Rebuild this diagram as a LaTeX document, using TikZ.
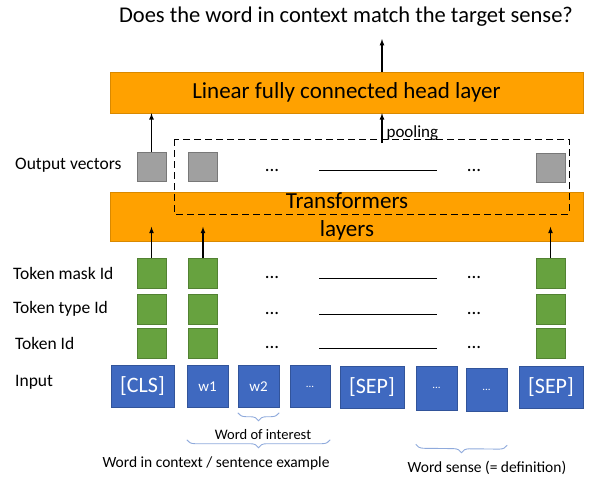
\documentclass[tikz,border=0pt]{standalone}
\usepackage{fontspec}
\setmainfont{Carlito}
\usetikzlibrary{decorations.pathreplacing}
\definecolor{layerorange}{HTML}{FFA100}
\definecolor{vecgrey}{HTML}{A0A0A0}
\definecolor{idgreen}{HTML}{67A23F}
\definecolor{tokblue}{HTML}{3F69C0}
\definecolor{bracebl}{HTML}{8FAADC}
\tikzset{
  layer/.style={draw=layerorange!85!black, fill=layerorange, minimum width=473pt, inner sep=0pt},
  vec/.style={draw=vecgrey!75!black, fill=vecgrey, minimum width=29pt, minimum height=29pt, inner sep=0pt},
  idbox/.style={draw=idgreen!80!black, fill=idgreen, minimum width=29pt, minimum height=30pt, inner sep=0pt},
  tok/.style={draw=tokblue!80!black, fill=tokblue, text=white, minimum height=42pt, inner sep=0pt},
  rowlabel/.style={anchor=west, inner sep=0pt, font=\fontsize{17.5}{20}\selectfont},
  dots/.style={font=\fontsize{19}{20}\selectfont},
  brc/.style={draw=bracebl, line width=0.9pt, decorate, decoration={brace, amplitude=8pt}},
  note/.style={font=\fontsize{15.5}{18}\selectfont},
}
\begin{document}
\begin{tikzpicture}[x=1pt, y=-1pt, >=latex]
\useasboundingbox (0,0) rectangle (590,477);

% title and head
\node[font=\fontsize{22.5}{26}\selectfont] (title) at (346,17) {Does the word in context match the target sense?};
\node[layer, minimum height=41pt, font=\fontsize{23}{26}\selectfont] (head) at (346.5,92.5) {Linear fully connected head layer};
\coordinate (answer) at (382,39);
\draw[->, line width=1.2pt] (head.north -| answer) -- (answer);

% output vectors
\node[rowlabel] (lout) at (15,165) {Output vectors};
\node[vec] (o1) at (151.5,166.5) {};
\node[vec] (o2) at (203,166.5) {};
\node[vec] (o3) at (551,168) {};
\node[dots] (od1) at (272,170) {...};
\node[dots] (od2) at (474,170) {...};
\coordinate (ol1) at (319,170);
\coordinate (ol2) at (437,170);
\draw[line width=0.8pt] (ol1) -- (ol2);
\coordinate (pool) at (382,143);
\draw[->, line width=1.2pt] (o1.north) -- (head.south -| o1);
\draw[->, line width=1.2pt] (pool) -- (head.south -| pool) node[pos=0.35, right, inner sep=1pt, xshift=3pt, font=\fontsize{17}{19}\selectfont] {pooling};

% transformers
\node[layer, minimum height=49pt, align=center, font=\fontsize{23}{28}\selectfont] (trans) at (347,216.5) {Transformers\\layers};
\draw[dashed, dash pattern=on 7pt off 4pt, line width=0.8pt] (174,139) rectangle (569,214);

% ids
\foreach \r/\x/\y/\t in {1/13/273/Token mask Id, 2/13/309/Token type Id, 3/15/343/Token Id} {
  \node[rowlabel] (l\r) at (\x,\y) {\t};
  \node[idbox] (a\r) at (151.5,\y) {};
  \node[idbox] (b\r) at (203,\y) {};
  \node[idbox] (c\r) at (550.5,\y) {};
  \node[dots] (d\r) at (272,\y+4) {...};
  \node[dots] (e\r) at (474,\y+4) {...};
  \coordinate (p\r) at (319,\y+5);
  \coordinate (q\r) at (437,\y+5);
  \draw[line width=0.8pt] (p\r) -- (q\r);
}
\draw[->, line width=1.2pt] (a1.north) -- ++(0,-31);
\draw[->, line width=1.2pt] (b1.north) -- ++(0,-31);
\draw[->, line width=1.2pt] (c1.north) -- ++(0,-31);

% input tokens
\node[rowlabel] (lin) at (15,382) {Input};
\node[tok, minimum width=63pt, font=\fontsize{22}{24}\selectfont] (cls) at (142.5,386.5) {[CLS]};
\node[tok, minimum width=41pt, font=\fontsize{15}{17}\selectfont] (w1) at (207.5,386.5) {w1};
\node[tok, minimum width=41pt, font=\fontsize{15}{17}\selectfont] (w2) at (258.5,386.5) {w2};
\node[tok, minimum width=40pt, font=\fontsize{11}{12}\selectfont] (t4) at (310,386.5) {...};
\node[tok, minimum width=64pt, font=\fontsize{22}{24}\selectfont] (sep1) at (372,387.5) {[SEP]};
\node[tok, minimum width=41pt, minimum height=44pt, font=\fontsize{11}{12}\selectfont] (t6) at (436.5,388) {...};
\node[tok, minimum width=41pt, minimum height=43pt, font=\fontsize{11}{12}\selectfont] (t7) at (486.5,389.5) {...};
\node[tok, minimum width=64pt, font=\fontsize{22}{24}\selectfont] (sep2) at (551,387.5) {[SEP]};

% braces
\draw[brc] ([yshift=-5pt]w2.south east) -- ([yshift=-5pt]w2.south west);
\node[note, font=\fontsize{14.5}{17}\selectfont] (interest) at (263,435) {Word of interest};
\draw[brc] ([yshift=-32pt]t4.south east) -- ([yshift=-32pt]w1.south west);
\node[note] (context) at (216,463) {Word in context / sentence example};
\draw[brc] ([yshift=-34pt]t7.south east) -- ([yshift=-34pt]t6.south west);
\node[note] (sense) at (487,468) {Word sense (= definition)};
\end{tikzpicture}
\end{document}
